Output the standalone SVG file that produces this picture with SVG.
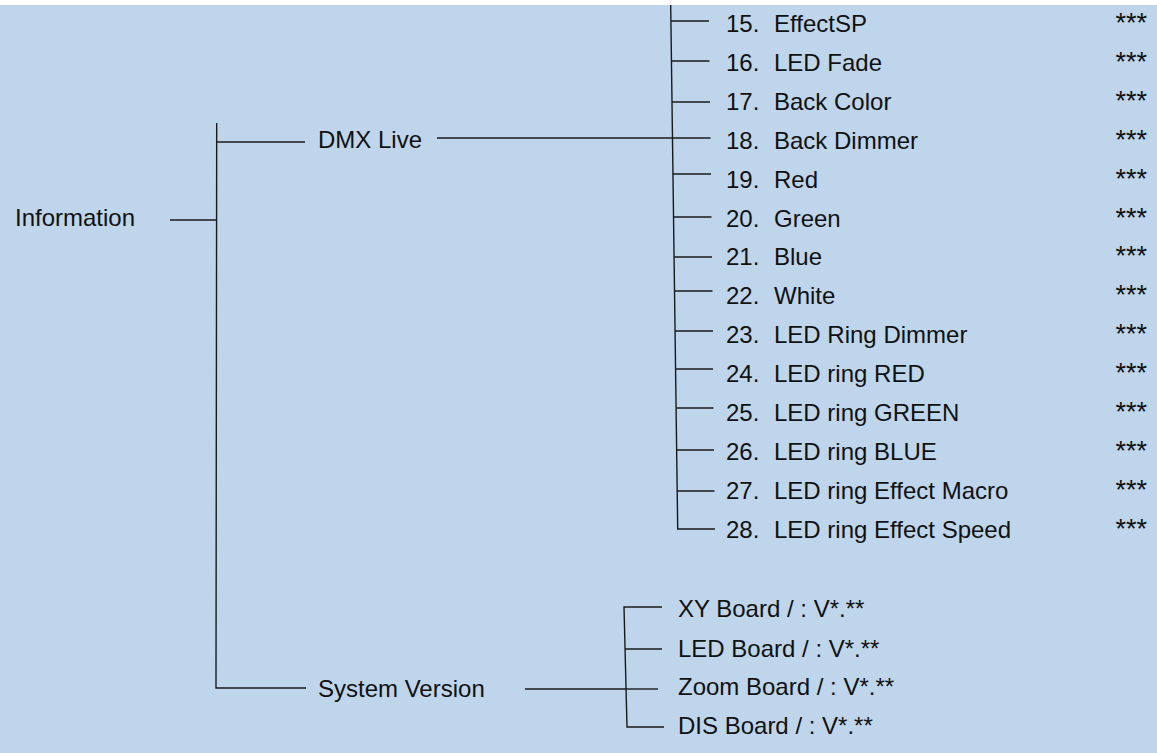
<svg xmlns="http://www.w3.org/2000/svg" width="1157" height="753" viewBox="0 0 1157 753">
<style>
text{font-family:"Liberation Sans",Arial,sans-serif;font-size:24px;fill:#111}
.ln{stroke:#1a1a1a;stroke-width:1.4;fill:none}
.st{text-anchor:end;font-size:27px}
</style>
<rect x="0" y="0" width="1157" height="753" fill="#ffffff"/>
<rect x="0" y="5" width="1157" height="748" fill="#bed5ec"/>
<g id="connectors">
<polyline class="ln" points="216.7,123 216,688 306,688"/>
<line class="ln" x1="170" y1="220" x2="216.6" y2="220"/>
<line class="ln" x1="216.7" y1="142" x2="305" y2="142"/>
<line class="ln" x1="437" y1="138" x2="672.5" y2="138"/>
<polyline class="ln" points="670.7,5 677.7,529 715,529"/>
<line class="ln" x1="671" y1="21" x2="709" y2="21"/>
<line class="ln" x1="671.5" y1="61" x2="709.5" y2="61"/>
<line class="ln" x1="672" y1="102" x2="710" y2="102"/>
<line class="ln" x1="672.5" y1="138" x2="710.5" y2="138"/>
<line class="ln" x1="673" y1="174" x2="711" y2="174"/>
<line class="ln" x1="673.5" y1="217" x2="711.5" y2="217"/>
<line class="ln" x1="674" y1="257" x2="712" y2="257"/>
<line class="ln" x1="674.5" y1="291" x2="712.5" y2="291"/>
<line class="ln" x1="675" y1="331" x2="713" y2="331"/>
<line class="ln" x1="675.5" y1="369" x2="713" y2="369"/>
<line class="ln" x1="676" y1="408" x2="713.5" y2="408"/>
<line class="ln" x1="676.5" y1="450" x2="714" y2="450"/>
<line class="ln" x1="677" y1="491" x2="714.5" y2="491"/>
<line class="ln" x1="525" y1="689" x2="626" y2="689"/>
<polyline class="ln" points="662,607 624,607 627,727 664,727"/>
<line class="ln" x1="625" y1="649" x2="662" y2="649"/>
<line class="ln" x1="626" y1="689" x2="658" y2="689"/>
</g>
<g id="information"><text x="15" y="226">Information</text></g>
<g id="dmx-live"><text x="318" y="148">DMX Live</text></g>
<g id="system-version"><text x="318" y="697">System Version</text></g>
<g id="item-15"><text x="726" y="32">15.</text><text x="774" y="32">EffectSP</text><text class="st" x="1147" y="32">***</text></g>
<g id="item-16"><text x="726" y="70.9">16.</text><text x="774" y="70.9">LED Fade</text><text class="st" x="1147" y="70.9">***</text></g>
<g id="item-17"><text x="726" y="109.8">17.</text><text x="774" y="109.8">Back Color</text><text class="st" x="1147" y="109.8">***</text></g>
<g id="item-18"><text x="726" y="148.7">18.</text><text x="774" y="148.7">Back Dimmer</text><text class="st" x="1147" y="148.7">***</text></g>
<g id="item-19"><text x="726" y="187.6">19.</text><text x="774" y="187.6">Red</text><text class="st" x="1147" y="187.6">***</text></g>
<g id="item-20"><text x="726" y="226.5">20.</text><text x="774" y="226.5">Green</text><text class="st" x="1147" y="226.5">***</text></g>
<g id="item-21"><text x="726" y="265.4">21.</text><text x="774" y="265.4">Blue</text><text class="st" x="1147" y="265.4">***</text></g>
<g id="item-22"><text x="726" y="304.3">22.</text><text x="774" y="304.3">White</text><text class="st" x="1147" y="304.3">***</text></g>
<g id="item-23"><text x="726" y="343.2">23.</text><text x="774" y="343.2">LED Ring Dimmer</text><text class="st" x="1147" y="343.2">***</text></g>
<g id="item-24"><text x="726" y="382.1">24.</text><text x="774" y="382.1">LED ring RED</text><text class="st" x="1147" y="382.1">***</text></g>
<g id="item-25"><text x="726" y="421">25.</text><text x="774" y="421">LED ring GREEN</text><text class="st" x="1147" y="421">***</text></g>
<g id="item-26"><text x="726" y="459.9">26.</text><text x="774" y="459.9">LED ring BLUE</text><text class="st" x="1147" y="459.9">***</text></g>
<g id="item-27"><text x="726" y="498.8">27.</text><text x="774" y="498.8">LED ring Effect Macro</text><text class="st" x="1147" y="498.8">***</text></g>
<g id="item-28"><text x="726" y="537.7">28.</text><text x="774" y="537.7">LED ring Effect Speed</text><text class="st" x="1147" y="537.7">***</text></g>
<g id="xy-board"><text x="678" y="617">XY Board / : V*.**</text></g>
<g id="led-board"><text x="678" y="657">LED Board / : V*.**</text></g>
<g id="zoom-board"><text x="678" y="695">Zoom Board / : V*.**</text></g>
<g id="dis-board"><text x="678" y="734">DIS Board / : V*.**</text></g>
</svg>
